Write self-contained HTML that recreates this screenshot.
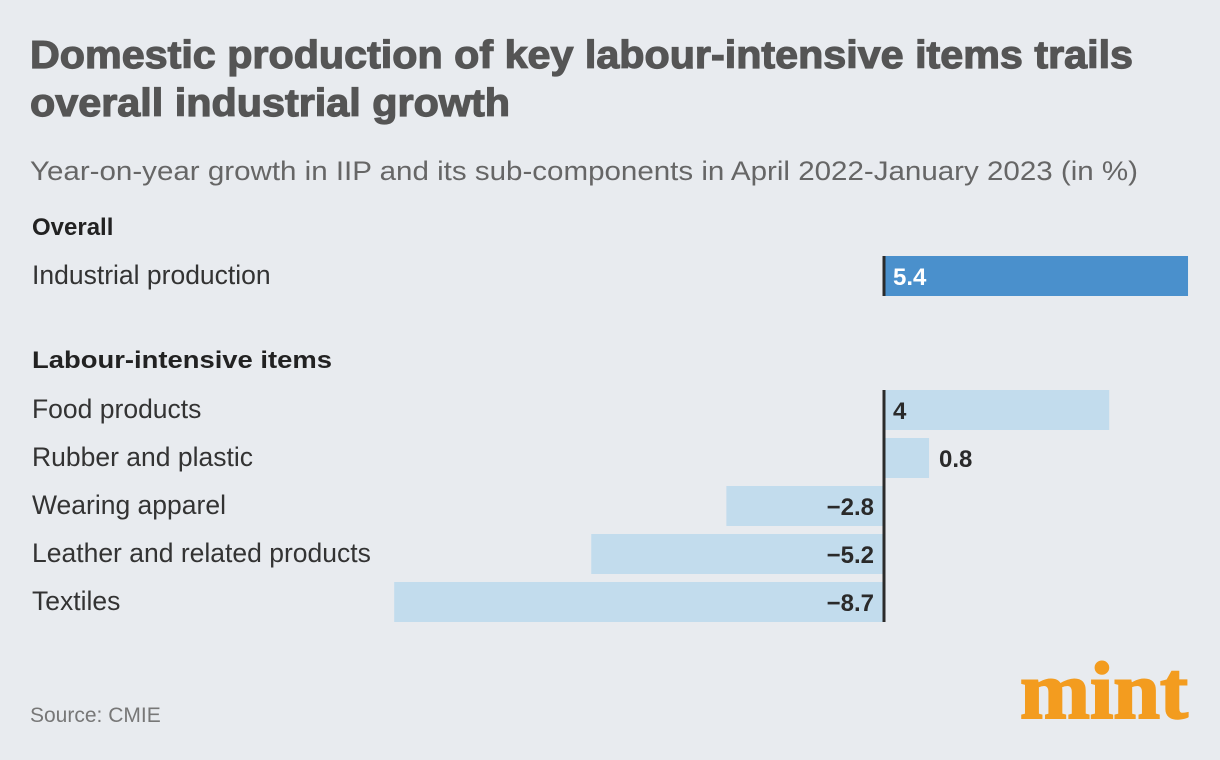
<!DOCTYPE html>
<html><head><meta charset="utf-8"><style>
html,body{margin:0;padding:0;background:#e8ebef;}
svg{display:block;font-family:"Liberation Sans",sans-serif;}
</style></head><body>
<svg id="chart" width="1220" height="760" viewBox="0 0 1220 760">
<rect width="1220" height="760" fill="#e8ebef"/>
<text x="30" y="68" font-size="39" font-weight="bold" fill="#555" stroke="#555" stroke-width="1.2" textLength="1103" lengthAdjust="spacingAndGlyphs">Domestic production of key labour-intensive items trails</text>
<text x="30" y="116" font-size="39" font-weight="bold" fill="#555" stroke="#555" stroke-width="1.2" textLength="480" lengthAdjust="spacingAndGlyphs">overall industrial growth</text>
<text x="30" y="180" font-size="27" fill="#666" textLength="1108" lengthAdjust="spacingAndGlyphs">Year-on-year growth in IIP and its sub-components in April 2022-January 2023 (in %)</text>
<text x="32" y="235" font-size="24" font-weight="bold" fill="#222">Overall</text>
<text x="32" y="368" font-size="24" font-weight="bold" fill="#222" textLength="300" lengthAdjust="spacingAndGlyphs">Labour-intensive items</text>
<g id="bars"></g>
<text x="30" y="722" font-size="21" fill="#777">Source: CMIE</text>
<text x="1020" y="718" font-size="82" font-weight="bold" font-family="Liberation Serif, serif" fill="#f39c1f" stroke="#f39c1f" stroke-width="2" textLength="168" lengthAdjust="spacingAndGlyphs">mint</text>
</svg>
<script>
const categories = ["Industrial production","Food products","Rubber and plastic","Wearing apparel","Leather and related products","Textiles"];
const values = [5.4, 4, 0.8, -2.8, -5.2, -8.7];
const labels = ["5.4","4","0.8","\u22122.8","\u22125.2","\u22128.7"];
const rowTops = [256, 390, 438, 486, 534, 582];
const zeroX = 884, unit = 56.3, barH = 40;
const xs = v => zeroX + v * unit;
const g = document.getElementById('bars');
const NS = 'http://www.w3.org/2000/svg';
categories.forEach((c, i) => {
  const y = rowTops[i];
  const v = values[i];
  const isMain = i === 0;
  const t = document.createElementNS(NS, 'text');
  t.setAttribute('x', 32); t.setAttribute('y', y + 28);
  t.setAttribute('font-size', 26.5); t.setAttribute('fill', '#333');
  t.textContent = c;
  
  
  g.appendChild(t);
  const r = document.createElementNS(NS, 'rect');
  const x0 = Math.min(xs(0), xs(v)), w = Math.abs(xs(v) - xs(0));
  r.setAttribute('x', x0); r.setAttribute('y', y);
  r.setAttribute('width', w); r.setAttribute('height', barH);
  r.setAttribute('fill', isMain ? '#4a90cc' : '#c2dced');
  
  
  g.appendChild(r);
  const l = document.createElementNS(NS, 'text');
  l.setAttribute('font-size', 24); l.setAttribute('font-weight', 'bold');
  l.setAttribute('y', y + 29);
  l.setAttribute('fill', isMain ? '#fff' : '#2a2a2a');
  if (v >= 0) {
    if (w > 60) { l.setAttribute('x', zeroX + 9); }
    else { l.setAttribute('x', xs(v) + 10); }
  } else {
    l.setAttribute('x', zeroX - 10); l.setAttribute('text-anchor', 'end');
  }
  l.textContent = labels[i];
  
  
  g.appendChild(l);
});
function axis(y1, y2) {
  const a = document.createElementNS(NS, 'line');
  a.setAttribute('x1', zeroX); a.setAttribute('x2', zeroX);
  a.setAttribute('y1', y1); a.setAttribute('y2', y2);
  a.setAttribute('stroke', '#2b2b2b'); a.setAttribute('stroke-width', 3);
  
  
  g.appendChild(a);
}
axis(rowTops[0], rowTops[0] + barH);
axis(rowTops[1], rowTops[5] + barH);
</script>
</body></html>
